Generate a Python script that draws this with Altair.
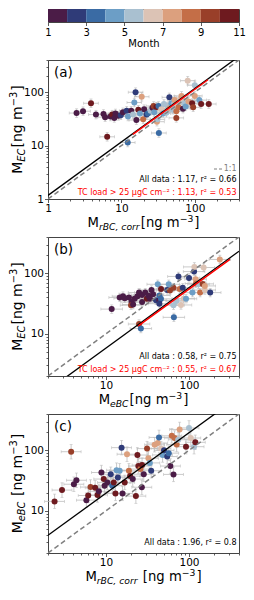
import altair as alt
import pandas as pd

# ---------------- data ----------------
PALETTE = ["#4b1c47", "#2f3b78", "#3a6ba4", "#6c9ec6", "#a9c0d0",
           "#dcc3b5", "#dca07e", "#c46e47", "#993f29", "#6e1a1f"]
MONTH_TICKS = [1, 3, 5, 7, 9, 11]
MONTH_BINS = [1, 2, 3, 4, 5, 6, 7, 8, 9, 10]

# (a) x = M_rBC,corr , y = M_EC
A_X = [2.45, 3.0, 3.85, 4.5, 5.7, 6.0, 6.4, 7.1, 7.5, 8.0, 8.3, 9.1, 9.8, 10.5, 11.8, 12.2,
       12.3, 13.6, 14.4, 15.0, 15.6, 16.0, 17.0, 17.9, 18.9, 19.8, 20.4, 22.0, 23.0, 25.0,
       26.5, 27.5, 28.0, 30.0, 30.5, 31.0, 32.0, 32.4, 35.0, 37.0, 38.0, 41.0, 43.0, 45.0,
       45.0, 48.0, 50.0, 52.0, 53.0, 56.0, 56.0, 58.0, 60.0, 63.0, 66.0, 69.0, 69.0, 72.0,
       75.0, 80.0, 82.0, 92.0, 95.0, 100.0, 100.0, 115.0, 122.0, 155.0]
A_Y = [40.6, 44, 62, 38, 39, 34, 14.6, 35, 38, 33, 40, 36, 37, 42, 45, 11.4,
       35, 45, 38, 64, 100, 30, 47, 40, 82, 31, 48, 38, 40, 45,
       51, 55, 42, 53, 28, 31, 55, 17.2, 48, 40, 60, 41, 54, 80,
       50, 62, 47, 60, 71, 44, 33, 58, 52, 75, 85, 70, 49, 62,
       54, 164, 67, 62, 52, 85, 135, 71, 60, 60]
A_M = [1, 1, 10, 1, 1, 1, 10, 1, 10, 1, 1, 1, 2, 1, 2, 3,
       4, 1, 5, 4, 2, 1, 10, 4, 7, 8, 1, 2, 3, 5,
       1, 9, 4, 10, 7, 5, 3, 3, 6, 4, 5, 5, 5, 2,
       7, 4, 5, 5, 7, 8, 9, 6, 8, 6, 7, 6, 1, 5,
       4, 6, 7, 10, 9, 7, 5, 4, 10, 10]

# (b) x = M_eBC , y = M_EC
B_X = [11.7, 14.6, 16.0, 16.8, 18.9, 20.3, 20.0, 21.2, 22.1, 23.9, 25.0, 25.0, 26.3, 27.2,
       27.2, 29.7, 31.0, 32.4, 33.8, 35.3, 36.9, 40.0, 42.0, 43.9, 44.0, 45.9, 43.9, 46.0,
       54.6, 57.0, 59.0, 65.0, 65.7, 65.0, 71.0, 74.6, 77.0, 80.0, 84.0, 86.0, 92.0, 100.0,
       110.0, 115.0, 116.0, 120.0, 121.0, 130.0, 136.0, 146.0, 150.0, 155.0, 155.0, 180.0, 235.0]
B_Y = [25.6, 40, 42, 38.8, 40, 33.5, 29.7, 30.4, 37.9, 41.8, 48, 14.5, 12.2, 43.8,
       33.5, 48, 38, 42.8, 38, 53, 45, 36, 66, 35.7, 43, 37.9, 31.5, 55,
       53, 66, 52, 58, 18.7, 29.7, 35, 89, 55, 30, 58, 38, 38, 84,
       48, 107, 128, 80, 68, 66, 48, 67, 125, 53, 62, 48, 170]
B_M = [1, 1, 1, 1, 1, 1, 9, 1, 1, 1, 1, 9, 3, 1,
       1, 1, 10, 1, 1, 1, 1, 2, 4, 1, 3, 3, 2, 10,
       2, 4, 9, 9, 3, 5, 5, 2, 8, 6, 2, 6, 4, 2,
       4, 2, 6, 7, 8, 5, 8, 9, 6, 6, 7, 2, 7]

# (c) x = M_rBC,corr , y = M_eBC
C_X = [2.4, 2.95, 3.8, 4.1, 4.4, 5.8, 6.1, 6.5, 7.4, 7.9, 8.2, 8.8, 9.4, 9.6, 10.4, 11.4,
       11.9, 12.4, 13.0, 13.4, 14.6, 13.9, 15.4, 15.8, 16.8, 17.9, 18.9, 19.5, 21.0, 22.9,
       23.9, 24.5, 26.0, 27.0, 27.2, 28.5, 31.2, 32.4, 33.7, 35.0, 38.5, 42.0, 43.5, 46.0,
       48.0, 50.0, 54.6, 57.0, 59.6, 62.0, 65.0, 67.0, 71.0, 74.0, 77.0, 92.0, 100.0, 105.0,
       115.0, 119.0]
C_Y = [14.3, 22, 95, 27.5, 32, 15, 17.9, 24.7, 24, 18.3, 21, 43, 33.5, 26, 29.5, 40.2,
       26, 29.5, 19.4, 47, 46, 35.7, 111, 19.4, 29.5, 86.5, 46, 37.5, 33.5, 17.5,
       83.7, 55, 49, 24.5, 57, 40.2, 107, 74, 62, 46, 124, 132, 164, 107,
       84, 100, 79, 90, 55, 174, 40, 160, 125, 150, 222, 115, 235, 160,
       115, 136]
C_M = [10, 10, 9, 1, 1, 1, 10, 9, 10, 10, 1, 1, 10, 1, 1, 2,
       3, 10, 10, 4, 4, 2, 2, 1, 10, 7, 8, 10, 1, 10,
       10, 10, 8, 1, 10, 1, 9, 7, 4, 2, 7, 7, 3, 6,
       4, 2, 2, 3, 1, 8, 1, 8, 8, 5, 7, 10, 5, 6,
       5, 10]

# relative uncertainties (dex) used for the grey error bars
A_ERR = (0.10, 0.08)
B_ERR = (0.13, 0.07)
C_ERR = (0.12, 0.12)

A_SLOPES = (1.17, 1.13)
A_TC_RANGE = [14.3, 151]
B_SLOPES = (0.58, 0.55)
B_TC_RANGE = [24.5, 311]
C_SLOPE = 1.96

A_TEXT = ["All data : 1.17, r² = 0.66", "TC load > 25 μgC cm⁻² : 1.13, r² = 0.53"]
B_TEXT = ["All data : 0.58, r² = 0.75", "TC load > 25 μgC cm⁻² : 0.55, r² = 0.67"]
C_TEXT = ["All data : 1.96, r² = 0.8"]

TICKS_A = [1, 2, 3, 4, 5, 6, 7, 8, 9, 10, 20, 30, 40, 50, 60, 70, 80, 90, 100, 200, 300, 400]
TICKS_BC = [2, 3, 4, 5, 6, 7, 8, 9, 10, 20, 30, 40, 50, 60, 70, 80, 90, 100, 200, 300, 400]

# ---------------- style ----------------
FONT = "DejaVu Sans"
W, H = 191, 139
EB = "#bcbcbc"
ONE = pd.DataFrame({"k": [0]})
CSCALE = alt.Scale(type="threshold", domain=[2, 3, 4, 5, 6, 7, 8, 9, 10], range=PALETTE)

EM = {" ": .318, "[": .390, "]": .390, ",": .318, "−": .838, "A": .684, "B": .686, "C": .698,
      "E": .632, "M": .863, "a": .613, "c": .550, "d": .635, "e": .615, "g": .635, "l": .278,
      "m": .974, "n": .634, "o": .612, "r": .411, "t": .392, ":": .337, ".": .318}
for dgt in "0123456789":
    EM[dgt] = .636


def tw(s, fs):
    return sum(EM.get(ch, 0.6) for ch in s) * fs


MAJOR = "abs(log(datum.value)/LN10 - round(log(datum.value)/LN10)) < 0.001"


def log_axis(ticks):
    return alt.Axis(values=ticks, title=None, grid=False, domain=False,
                    labelExpr=MAJOR + " ? format(datum.value, 'd') : ''",
                    tickSize={"condition": {"test": MAJOR, "value": 3.5}, "value": 2},
                    tickColor="#333", tickWidth=0.8, labelPadding=1, labelFlush=False,
                    labelOverlap=False, labelFont=FONT, labelFontSize=10.5, labelColor="black")


def title_pieces(pieces, fs, center, base, vertical):
    items = []
    off = 0.0
    for txt, kind in pieces:
        size = fs if kind == "n" else fs * 0.7
        lead = len(txt) - len(txt.lstrip(" "))
        off += lead * EM[" "] * size
        t = txt.strip(" ")
        shift = 0.0
        if kind == "sub":
            shift = 0.22 * fs
        elif kind == "sup":
            shift = -0.36 * fs
        items.append((t, size, "italic" if kind == "sub" else "normal", off, shift))
        off += tw(t, size)
        if kind != "n":
            off += 0.08 * fs
    total = off
    marks = []
    for t, size, style, o, shift in items:
        if vertical:
            px, py, ang = base + shift, center + total / 2 - o, 270
        else:
            px, py, ang = center - total / 2 + o, base + shift, 0
        marks.append(alt.Chart(ONE).mark_text(text=t, font=FONT, fontSize=size, fontStyle=style,
                                              align="left", baseline="alphabetic", angle=ang,
                                              color="black")
                     .encode(x=alt.value(px), y=alt.value(py)))
    return marks


def panel(xs, ys, ms, dom, ticks, err, lines, texts, label, xtitle, ytitle, legend11=False):
    df = pd.DataFrame({"x": xs, "y": ys, "m": ms})
    df["xlo"] = df["x"] / 10 ** err[0]
    df["xhi"] = df["x"] * 10 ** err[0]
    df["ylo"] = df["y"] / 10 ** err[1]
    df["yhi"] = df["y"] * 10 ** err[1]
    sx = alt.Scale(type="log", domain=dom, nice=False)
    sy = alt.Scale(type="log", domain=dom, nice=False)
    ax = log_axis(ticks)
    base = alt.Chart(df)
    ebx = base.mark_errorbar(ticks={"size": 3}, color=EB, thickness=0.8).encode(
        x=alt.X("xlo:Q", scale=sx, axis=ax), x2="xhi:Q", y=alt.Y("y:Q", scale=sy, axis=ax))
    eby = base.mark_errorbar(ticks={"size": 3}, color=EB, thickness=0.8).encode(
        x=alt.X("x:Q", scale=sx, axis=ax), y=alt.Y("ylo:Q", scale=sy, axis=ax), y2="yhi:Q")
    pts = base.mark_circle(size=36, opacity=1).encode(
        x=alt.X("x:Q", scale=sx, axis=ax), y=alt.Y("y:Q", scale=sy, axis=ax),
        color=alt.Color("m:Q", scale=CSCALE, legend=None))
    layers = [ebx, eby, pts]
    for lx, ly, col, sw, dash in lines:
        ldf = pd.DataFrame({"x": lx, "y": ly})
        kw = dict(color=col, strokeWidth=sw, clip=True)
        if dash:
            kw["strokeDash"] = dash
        layers.append(alt.Chart(ldf).mark_line(**kw).encode(
            x=alt.X("x:Q", scale=sx, axis=ax), y=alt.Y("y:Q", scale=sy, axis=ax)))
    for txt, col, dy in texts:
        layers.append(alt.Chart(ONE).mark_text(text=txt, font=FONT, fontSize=8, color=col,
                                               align="right", baseline="middle")
                      .encode(x=alt.value(W - 2.5), y=alt.value(H - dy)))
    if legend11:
        layers.append(alt.Chart(ONE).mark_text(text="1:1", font=FONT, fontSize=8, color="#808080",
                                               align="right", baseline="middle")
                      .encode(x=alt.value(W - 2.5), y=alt.value(H - 30)))
        layers.append(alt.Chart(ONE).mark_rule(color="#808080", strokeWidth=1.2, strokeDash=[3, 2])
                      .encode(x=alt.value(W - 25), x2=alt.value(W - 17), y=alt.value(H - 30)))
    layers.append(alt.Chart(ONE).mark_text(text=label, font=FONT, fontSize=13.5, color="black",
                                           align="left", baseline="alphabetic")
                  .encode(x=alt.value(6), y=alt.value(17)))
    layers += title_pieces(xtitle, 13.2, W / 2, H + 28, False)
    layers += title_pieces(ytitle, 14, H / 2, -26, True)
    return alt.layer(*layers).properties(width=W, height=H)


TITLE_EC = [("M", "n"), ("EC", "sub"), ("[ng m", "n"), ("−3", "sup"), ("]", "n")]
TITLE_RBC = [("M", "n"), ("rBC, corr", "sub"), ("[ng m", "n"), ("−3", "sup"), ("]", "n")]
TITLE_EBC = [("M", "n"), ("eBC", "sub"), ("[ng m", "n"), ("−3", "sup"), ("]", "n")]
TITLE_EBC_S = [("M", "n"), ("eBC", "sub"), (" [ng m", "n"), ("−3", "sup"), ("]", "n")]
TITLE_RBC_S = [("M", "n"), ("rBC, corr", "sub"), (" [ng m", "n"), ("−3", "sup"), ("]", "n")]

GRAY = "#808080"
pa = panel(A_X, A_Y, A_M, [1, 400], TICKS_A, A_ERR,
           [([1, 400], [1, 400], GRAY, 1.5, [5, 3]),
            ([1, 400], [A_SLOPES[0] * 1, A_SLOPES[0] * 400], "black", 1.3, None),
            (A_TC_RANGE, [A_SLOPES[1] * A_TC_RANGE[0], A_SLOPES[1] * A_TC_RANGE[1]], "red", 1.5, None)],
           [(A_TEXT[0], "black", 19), (A_TEXT[1], "red", 6)], "(a)", TITLE_RBC, TITLE_EC, True)
pb = panel(B_X, B_Y, B_M, [2, 400], TICKS_BC, B_ERR,
           [([2, 400], [2, 400], GRAY, 1.5, [5, 3]),
            ([2, 400], [B_SLOPES[0] * 2, B_SLOPES[0] * 400], "black", 1.3, None),
            (B_TC_RANGE, [B_SLOPES[1] * B_TC_RANGE[0], B_SLOPES[1] * B_TC_RANGE[1]], "red", 1.5, None)],
           [(B_TEXT[0], "black", 19), (B_TEXT[1], "red", 6)], "(b)", TITLE_EBC, TITLE_EC)
pc = panel(C_X, C_Y, C_M, [2, 400], TICKS_BC, C_ERR,
           [([2, 400], [2, 400], GRAY, 1.5, [5, 3]),
            ([2, 400], [C_SLOPE * 2, C_SLOPE * 400], "black", 1.3, None)],
           [(C_TEXT[0], "black", 10)], "(c)", TITLE_RBC_S, TITLE_EBC_S)

cb = pd.DataFrame({"m0": MONTH_BINS, "m1": [v + 1 for v in MONTH_BINS]})
colorbar = alt.Chart(cb).mark_rect().encode(
    x=alt.X("m0:Q", scale=alt.Scale(domain=[1, 11], nice=False, zero=False),
            axis=alt.Axis(values=MONTH_TICKS, format="d", title="Month", grid=False, domain=False,
                          tickSize=3.5, tickColor="#333", tickWidth=0.8, labelPadding=2,
                          labelFlush=False, labelFont=FONT, labelFontSize=10, labelColor="black",
                          titleFont=FONT, titleFontSize=10, titleFontWeight="normal",
                          titleColor="black", titlePadding=1)),
    x2="m1:Q",
    color=alt.Color("m0:Q", scale=CSCALE, legend=None),
).properties(width=W, height=13)

chart = alt.vconcat(colorbar, pa, pb, pc, spacing=38, bounds="flush").properties(
    padding={"left": 0, "top": 0, "right": 0, "bottom": 0}
).configure_view(stroke="#444", strokeWidth=1)

chart.save("out.html", embed_options={"renderer": "svg", "actions": False})
